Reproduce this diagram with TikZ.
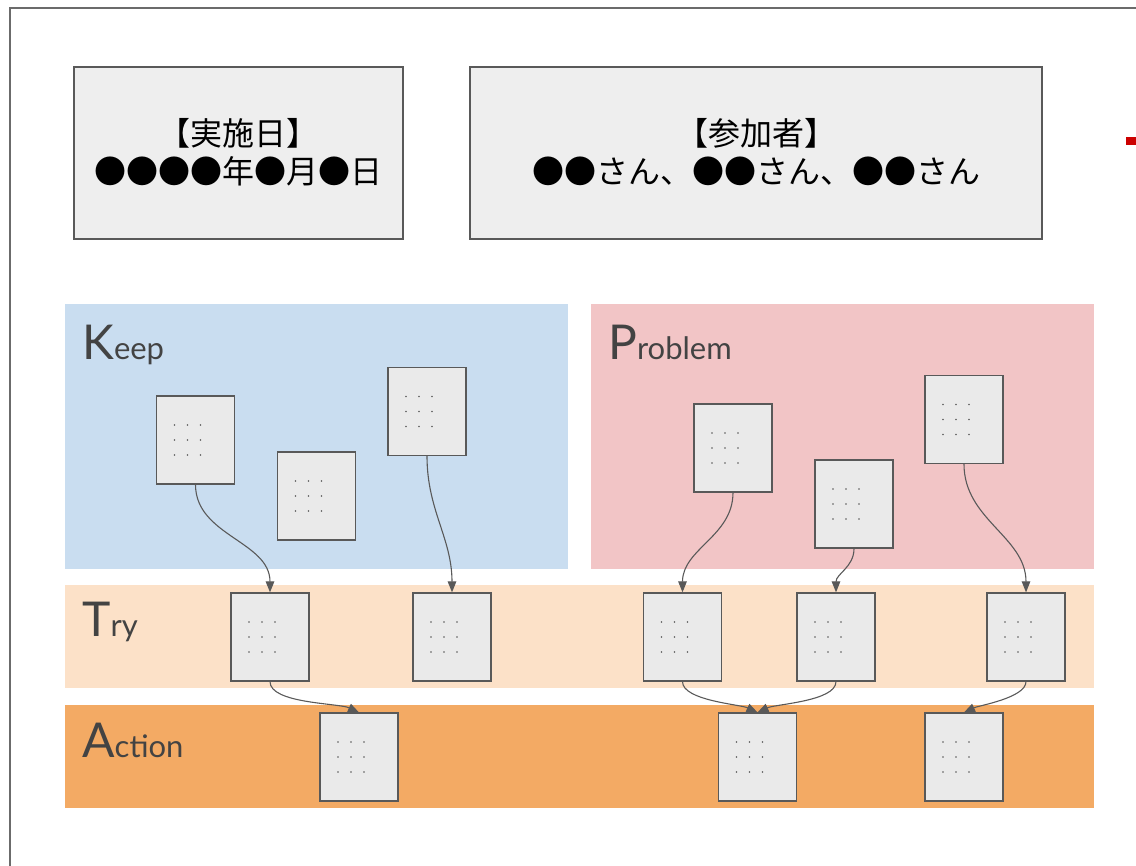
\documentclass[tikz,border=0pt]{standalone}
\usepackage{fontspec}
\newfontfamily\cjk{Noto Sans CJK JP}
\newfontfamily\lab{Lato}
\usetikzlibrary{arrows.meta}
\definecolor{framegray}{HTML}{6B6B6B}
\definecolor{edgegray}{HTML}{595959}
\definecolor{boxfill}{HTML}{EEEEEE}
\definecolor{cardfill}{HTML}{EAEAEA}
\definecolor{keepbg}{HTML}{C9DDF0}
\definecolor{probbg}{HTML}{F2C5C6}
\definecolor{trybg}{HTML}{FCE1C8}
\definecolor{actbg}{HTML}{F3AA64}
\definecolor{labtext}{HTML}{434343}
\definecolor{markred}{HTML}{CC0000}
\tikzset{
  infobox/.style={draw=edgegray, line width=1.3pt, fill=boxfill},
  card/.style={draw=edgegray, line width=1.2pt, fill=cardfill, minimum width=78pt, minimum height=88pt, inner sep=0pt,
    path picture={
      \foreach \i in {-13,0,13}{\foreach \j in {-15,0,15}{
        \fill[edgegray] ([shift={(\i-8,\j)}]path picture bounding box.center) circle (0.9pt);}}
    }},
  link/.style={draw=edgegray, line width=1.1pt, -{Triangle[length=11pt,width=8.5pt]}},
}
\newcommand{\bandlabel}[2]{{\fontsize{48}{48}\selectfont #1}{\fontsize{31}{31}\selectfont #2}}
\begin{document}
\begin{tikzpicture}[x=1pt,y=-1pt]
\useasboundingbox (0,0) rectangle (1136,866);
\begin{scope}
\clip (0,0) rectangle (1136,866);
% outer page frame
\draw[framegray, line width=1.6pt] (10,8) rectangle (1150,880);
% red marker at the right edge
\fill[markred] (1126,137) rectangle (1140,145);
\end{scope}

% header boxes
\draw[infobox] (74,67) rectangle (403,239);
\node[align=center, font=\cjk\fontsize{32}{38}\selectfont, text=black] (date) at (238.5,152) {【実施日】\\●●●●年●月●日};
\draw[infobox] (470,67) rectangle (1042,239);
\node[align=center, font=\cjk\fontsize{32}{38}\selectfont, text=black] (members) at (756,152) {【参加者】\\●●さん、●●さん、●●さん};

% category bands
\fill[keepbg] (65,304) rectangle (568,569);
\fill[probbg] (591,304) rectangle (1094,569);
\fill[trybg] (65,585) rectangle (1094,688);
\fill[actbg] (65,705) rectangle (1094,808);

\node[anchor=base west, inner sep=0pt, text=labtext, font=\lab] (keep) at (82,360) {\bandlabel{K}{eep}};
\node[anchor=base west, inner sep=0pt, text=labtext, font=\lab] (problem) at (608,360) {\bandlabel{P}{roblem}};
\node[anchor=base west, inner sep=0pt, text=labtext, font=\lab] (try) at (82,636) {\bandlabel{T}{ry}};
\node[anchor=base west, inner sep=0pt, text=labtext, font=\lab] (action) at (82,757) {\bandlabel{A}{ction}};

% Keep cards
\node[card] (k1) at (195.5,440) {};
\node[card] (k2) at (316.5,496) {};
\node[card] (k3) at (427,411.5) {};
% Problem cards
\node[card] (p1) at (733,448) {};
\node[card] (p2) at (854,504) {};
\node[card] (p3) at (964,419.5) {};
% Try cards
\node[card] (t1) at (270,637) {};
\node[card] (t2) at (452,637) {};
\node[card] (t3) at (682.5,637) {};
\node[card] (t4) at (836,637) {};
\node[card] (t5) at (1026,637) {};
% Action cards
\node[card] (a1) at (359,757) {};
\node[card] (a2) at (757.5,757) {};
\node[card] (a3) at (964,757) {};

% links
\draw[link] (k1.south) to[out=-90,in=90] (t1.north);
\draw[link] (k3.south) to[out=-90,in=90] (t2.north);
\draw[link] (p1.south) to[out=-90,in=90] (t3.north);
\draw[link] (p2.south) to[out=-90,in=90] (t4.north);
\draw[link] (p3.south) to[out=-90,in=90] (t5.north);
\draw[link] (t1.south) to[out=-90,in=155,looseness=0.6] (a1.north);
\draw[link] (t3.south) to[out=-90,in=155,looseness=0.6] (a2.north);
\draw[link] (t4.south) to[out=-90,in=25,looseness=0.6] (a2.north);
\draw[link] (t5.south) to[out=-90,in=25,looseness=0.6] (a3.north);
\end{tikzpicture}
\end{document}
